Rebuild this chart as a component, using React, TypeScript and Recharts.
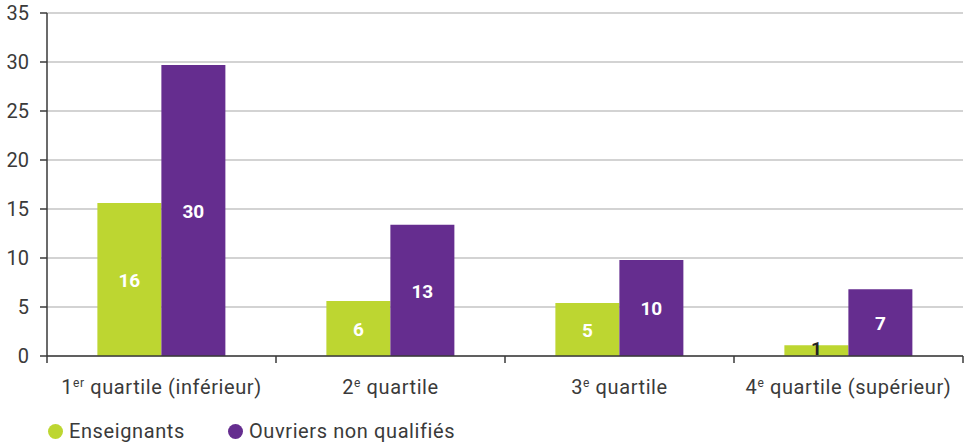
import { BarChart, Bar, XAxis, YAxis, CartesianGrid, Legend, LabelList } from 'recharts';

const quartiles = ['1|er| quartile (inférieur)', '2|e| quartile', '3|e| quartile', '4|e| quartile (supérieur)'];
const enseignants = [15.6, 5.6, 5.4, 1.1];
const ouvriers = [29.7, 13.4, 9.8, 6.8];
const enseignantsLabels = ['16', '6', '5', '1'];
const ouvriersLabels = ['30', '13', '10', '7'];
const yTicks = [0, 5, 10, 15, 20, 25, 30, 35];

const GREEN = '#bdd631';
const PURPLE = '#652d8f';
const AXIS = '#3a3a3a';
const FONT = 'Roboto, "DejaVu Sans", sans-serif';

const data = quartiles.map((q, i) => ({
  q,
  ens: enseignants[i],
  ouv: ouvriers[i],
  ensLabel: enseignantsLabels[i],
  ouvLabel: ouvriersLabels[i],
}));

const CHART_W = 967;
const CHART_H = 445;
const PLOT_LEFT = 47;
const PLOT_RIGHT = 4;
const BAND = (CHART_W - PLOT_LEFT - PLOT_RIGHT) / quartiles.length;

function QuartileTick(props: any) {
  const { x, y, payload, index } = props;
  const [a, sup, b] = String(payload.value).split('|');
  const left = x - BAND / 2;
  return (
    <g>
      <line x1={left} y1={y - 8} x2={left} y2={y - 1} stroke={AXIS} strokeWidth={1.5} />
      {index === quartiles.length - 1 && (
        <line x1={x + BAND / 2} y1={y - 8} x2={x + BAND / 2} y2={y - 1} stroke={AXIS} strokeWidth={1.5} />
      )}
      <text
        x={x}
        y={y + 30}
        textAnchor="middle"
        fill="#3a3a3a"
        fontSize={20}
        letterSpacing={0.6}
        fontFamily={FONT}
      >
        <tspan>{a}</tspan>
        <tspan dy={-7} fontSize={12}>{sup}</tspan>
        <tspan dy={7}>{b}</tspan>
      </text>
    </g>
  );
}

function BarValue(props: any) {
  const { x, y, width, height, value } = props;
  const dark = value === '1';
  return (
    <text
      x={x + width / 2}
      y={y + height / 2}
      dy={dark ? -2 : 1}
      textAnchor="middle"
      dominantBaseline="central"
      fill={dark ? '#222222' : '#ffffff'}
      fontWeight="bold"
      fontSize={19}
      fontFamily={FONT}
    >
      {value}
    </text>
  );
}

function LegendContent() {
  const items = [
    { name: 'Enseignants', color: GREEN },
    { name: 'Ouvriers non qualifiés', color: PURPLE },
  ];
  return (
    <div
      style={{
        display: 'flex',
        fontFamily: FONT,
        fontSize: 20,
        letterSpacing: 0.6,
        color: '#3a3a3a',
      }}
    >
      {items.map((it, i) => (
        <div key={it.name} style={{ display: 'flex', alignItems: 'center', width: i === 0 ? 180 : 'auto' }}>
          <span
            style={{
              display: 'inline-block',
              width: 15,
              height: 15,
              borderRadius: '50%',
              background: it.color,
              marginRight: 6,
            }}
          />
          {it.name}
        </div>
      ))}
    </div>
  );
}

export default function App() {
  return (
    <div style={{ width: CHART_W, height: CHART_H }}>
      <style>{'body{margin:0}'}</style>
      <BarChart
        width={CHART_W}
        height={CHART_H}
        data={data}
        margin={{ top: 13, right: PLOT_RIGHT, left: 0, bottom: 19 }}
        barCategoryGap="22%"
        barGap={0}
      >
        <CartesianGrid vertical={false} stroke="#a8a8a8" strokeWidth={1.2} />
        <XAxis
          dataKey="q"
          height={40}
          tickLine={false}
          axisLine={{ stroke: AXIS, strokeWidth: 1.5 }}
          tick={<QuartileTick />}
          interval={0}
        />
        <YAxis
          width={PLOT_LEFT}
          domain={[0, 35]}
          ticks={yTicks}
          interval={0}
          axisLine={{ stroke: AXIS, strokeWidth: 1.5 }}
          tickLine={{ stroke: AXIS, strokeWidth: 1.5 }}
          tickSize={7}
          tickMargin={11}
          tick={{ fill: '#3a3a3a', fontSize: 20, fontFamily: FONT }}
        />
        <Legend
          verticalAlign="bottom"
          align="left"
          height={30}
          content={<LegendContent />}
          wrapperStyle={{ left: 48, bottom: -4 }}
        />
        <Bar dataKey="ens" name="Enseignants" fill={GREEN} isAnimationActive={false}>
          <LabelList dataKey="ensLabel" content={<BarValue />} />
        </Bar>
        <Bar dataKey="ouv" name="Ouvriers non qualifiés" fill={PURPLE} isAnimationActive={false}>
          <LabelList dataKey="ouvLabel" content={<BarValue />} />
        </Bar>
      </BarChart>
    </div>
  );
}
